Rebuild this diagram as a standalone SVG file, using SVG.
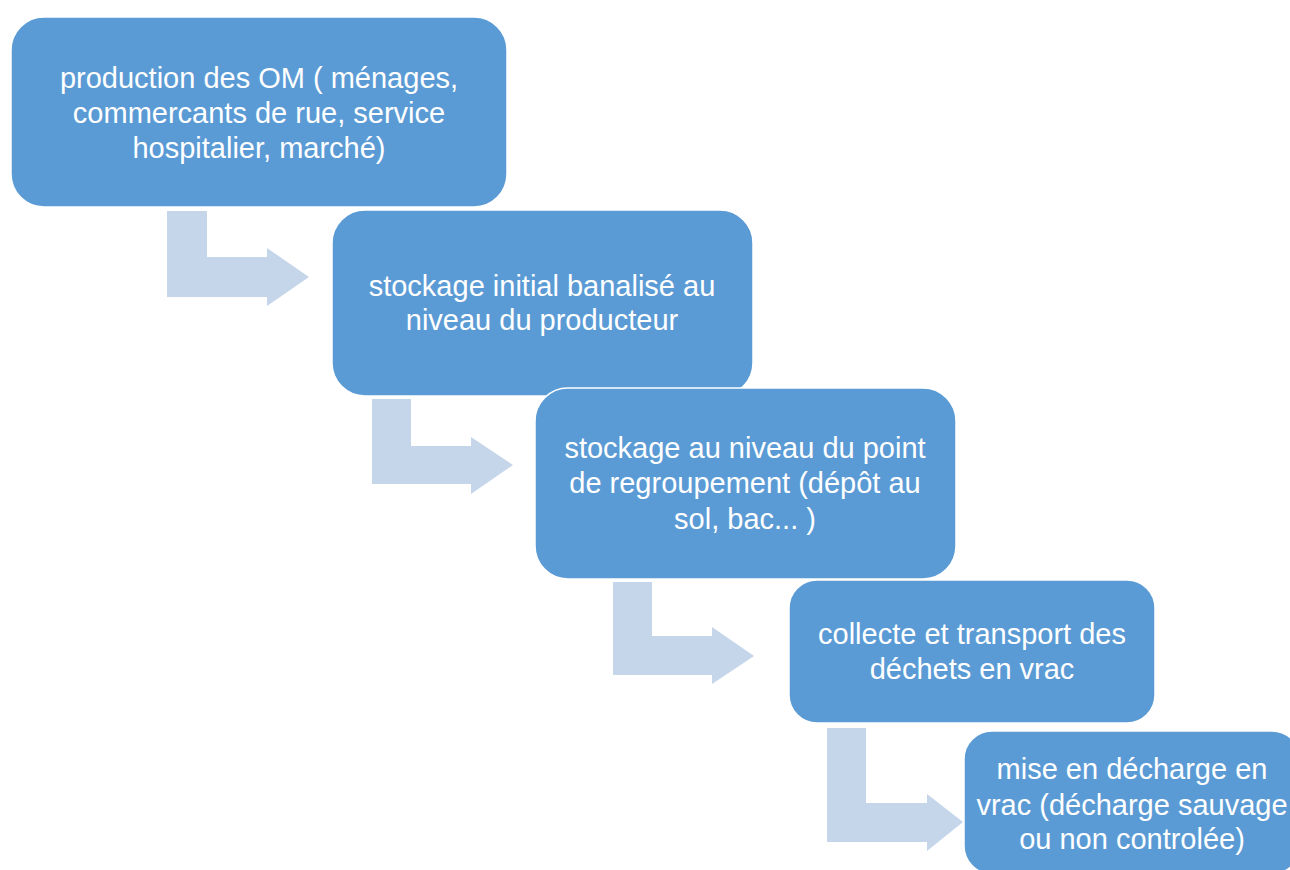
<svg xmlns="http://www.w3.org/2000/svg" width="1290" height="870" viewBox="0 0 1290 870">
<style>
.box{fill:#5B9BD5;stroke:#ffffff;stroke-width:1.5}
.arr{fill:#C5D5EA}
.t{font-family:"Liberation Sans",Arial,sans-serif;font-size:29px;fill:#ffffff;text-anchor:middle}
</style>
<rect width="1290" height="870" fill="#ffffff"/>
<g id="connectors">
<path class="arr" d="M167,211 H207 V257 H267 V248 L309,277 L267,306 V297 H167 Z"/>
<path class="arr" d="M372,399 H411 V446 H471 V437 L513,465 L471,494 V484 H372 Z"/>
<path class="arr" d="M613,582 H652 V636 H712 V627 L754,656 L712,684 V675 H613 Z"/>
<path class="arr" d="M827,728 H866 V803 H927 V794 L963,822 L927,851 V842 H827 Z"/>
</g>
<g id="n1">
<rect class="box" x="11" y="17" width="496" height="190" rx="33"/>
<text class="t" x="259" y="88">production des OM ( ménages,</text>
<text class="t" x="259" y="123">commercants de rue, service</text>
<text class="t" x="259" y="158">hospitalier, marché)</text>
</g>
<g id="n2">
<rect class="box" x="332" y="210" width="421" height="186" rx="33"/>
<text class="t" x="542" y="296">stockage initial banalisé au</text>
<text class="t" x="542" y="330">niveau du producteur</text>
</g>
<g id="n3">
<rect class="box" x="535" y="388" width="421" height="191" rx="33"/>
<text class="t" x="745" y="458">stockage au niveau du point</text>
<text class="t" x="745" y="493">de regroupement (dépôt au</text>
<text class="t" x="745" y="529">sol, bac... )</text>
</g>
<g id="n4">
<rect class="box" x="789" y="580" width="366" height="143" rx="28"/>
<text class="t" x="972" y="644">collecte et transport des</text>
<text class="t" x="972" y="679">déchets en vrac</text>
</g>
<g id="n5">
<rect class="box" x="964" y="731" width="336" height="143" rx="28"/>
<text class="t" x="1132" y="779">mise en décharge en</text>
<text class="t" x="1132" y="815">vrac (décharge sauvage</text>
<text class="t" x="1132" y="849">ou non controlée)</text>
</g>
</svg>
